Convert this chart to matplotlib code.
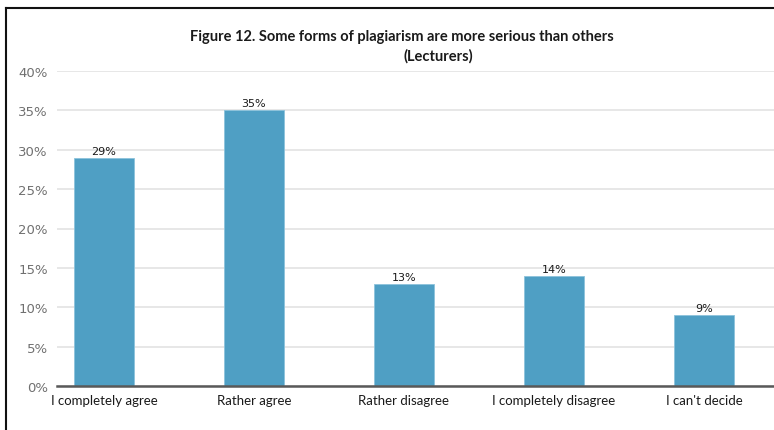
import matplotlib
matplotlib.use("Agg")

import matplotlib.pyplot as plt
from matplotlib.lines import Line2D
from matplotlib.ticker import FuncFormatter

# ── data ──────────────────────────────────────────────────────────────────────
categories = ["I completely agree", "Rather agree", "Rather disagree",
              "I completely disagree", "I can't decide"]
shares = [29, 35, 13, 14, 9]
y_ticks = [0, 5, 10, 15, 20, 25, 30, 35, 40]

BAR_COLOR = "#4F9FC4"
GRID_COLOR = "#E3E3E3"
AXIS_COLOR = "#595959"

W, H = 774, 431
fig = plt.figure(figsize=(W / 100, H / 100), dpi=100)

# plot area in pixel terms: left 57, right past the edge, 0% at y=387, 40% at y=72
ax = fig.add_axes([57 / W, (H - 387) / H, (W - 57) / W, (387 - 72) / H])

x = range(len(categories))
ax.bar(x, shares, width=0.4, color=BAR_COLOR, edgecolor="#8CC3DC",
       linewidth=0.6, zorder=3)

for xi, v in zip(x, shares):
    ax.text(xi, v + 0.25, f"{v}%", ha="center", va="bottom",
            fontsize=8, color="#1a1a1a", family="DejaVu Sans", zorder=4)

ax.set_xlim(-0.313, 4.467)
ax.set_ylim(0, 40)
ax.set_yticks(y_ticks)
ax.yaxis.set_major_formatter(FuncFormatter(lambda v, _: f"{v:.0f}%"))
ax.set_xticks(list(x))
ax.set_xticklabels(categories, family="Lato", fontsize=9.5, color="#1a1a1a")

ax.grid(axis="y", color=GRID_COLOR, linewidth=1.2, zorder=0)
for side in ("top", "right", "left"):
    ax.spines[side].set_visible(False)
ax.spines["bottom"].set_color(AXIS_COLOR)
ax.spines["bottom"].set_linewidth(1.8)
ax.spines["bottom"].set_zorder(5)

ax.tick_params(axis="y", length=0, pad=6.5, labelsize=9.5, labelcolor="#707070")
ax.tick_params(axis="x", length=0, pad=6)

fig.text(402 / W, 1 - 37 / H,
         "Figure 12. Some forms of plagiarism are more serious than others",
         ha="center", va="center", family="Lato", fontweight="bold",
         fontsize=10.5, color="#1a1a1a")
fig.text(438 / W, 1 - 56 / H, "(Lecturers)", ha="center", va="center",
         family="Lato", fontweight="bold", fontsize=10.5, color="#1a1a1a")

# outer frame: only the left and top edges show
fig.add_artist(Line2D([6 / W, 6 / W], [0, 1 - 9 / H], transform=fig.transFigure,
                      color="#111111", linewidth=1.5))
fig.add_artist(Line2D([6 / W, 1], [1 - 9 / H, 1 - 9 / H], transform=fig.transFigure,
                      color="#111111", linewidth=1.5))

fig.savefig("out.png", dpi=100)
